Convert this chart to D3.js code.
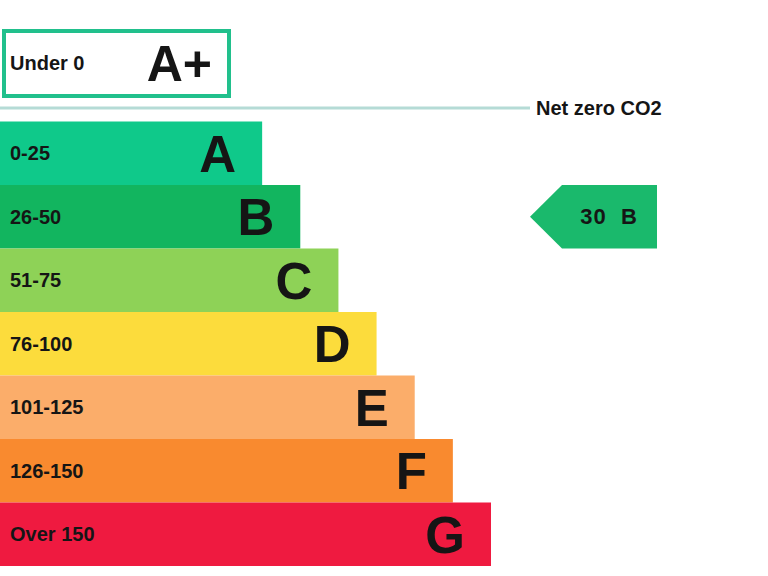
<!DOCTYPE html>
<html>
<head>
<meta charset="utf-8">
<script src="https://cdn.jsdelivr.net/npm/d3@7"></script>
<style>
  html, body { margin: 0; padding: 0; background: #fff; }
  svg { display: block; }
  text { font-family: "Liberation Sans", Arial, sans-serif; font-weight: bold; fill: #151515; }
</style>
</head>
<body>
<svg id="chart" width="768" height="576"></svg>
<script>
// ---- data ----
const bands = ["A", "B", "C", "D", "E", "F", "G"];
const ranges = ["0-25", "26-50", "51-75", "76-100", "101-125", "126-150", "Over 150"];
const barLengths = [1, 2, 3, 4, 5, 6, 7];
const bandColors = ["#0fc98a", "#12b55f", "#8ed257", "#fcdc3c", "#fbad6a", "#f98a2f", "#ef1a40"];
const topBand = "A+";
const topRange = "Under 0";
const topColor = "#21c08c";
const netZeroLabel = "Net zero CO2";
const currentValue = 30;
const currentBand = "B";
const currentColor = "#1ab96c";

// ---- drawing ----
const svg = d3.select("#chart");

const y = d3.scaleBand().domain(bands).range([121.5, 566]).padding(0);
const x = d3.scaleLinear().domain([0, 7]).range([224, 491]);

// A+ box
svg.append("rect")
  .attr("x", 4).attr("y", 31)
  .attr("width", 225).attr("height", 65)
  .attr("fill", "#fff")
  .attr("stroke", topColor)
  .attr("stroke-width", 4);
svg.append("text").attr("x", 10).attr("y", 70).attr("font-size", 20).text(topRange);
svg.append("text").attr("x", 212).attr("y", 81).attr("text-anchor", "end").attr("font-size", 50).text(topBand);

// Net zero line
svg.append("line")
  .attr("x1", 0).attr("x2", 530)
  .attr("y1", 108).attr("y2", 108)
  .attr("stroke", "#b5dbd6").attr("stroke-width", 3);
svg.append("text").attr("x", 536).attr("y", 114.5).attr("font-size", 20).text(netZeroLabel);

// Bars
const g = svg.append("g");
const rows = g.selectAll("g.row").data(bands).join("g").attr("class", "row");
rows.append("rect")
  .attr("x", 0)
  .attr("y", d => y(d))
  .attr("width", (d, i) => x(barLengths[i]))
  .attr("height", y.bandwidth())
  .attr("fill", (d, i) => bandColors[i]);
rows.append("text")
  .attr("x", 10)
  .attr("y", d => y(d) + y.bandwidth() / 2 + 7)
  .attr("font-size", 20)
  .text((d, i) => ranges[i]);
rows.append("text")
  .attr("x", (d, i) => x(barLengths[i]) - 26)
  .attr("y", d => y(d) + y.bandwidth() / 2 + 18.5)
  .attr("text-anchor", "end")
  .attr("font-size", 51)
  .text(d => d);

// Current rating arrow
const ay0 = y(currentBand), ay1 = ay0 + y.bandwidth(), amid = (ay0 + ay1) / 2;
const ax0 = 530, axs = 562, ax1 = 657;
svg.append("path")
  .attr("d", `M${ax0},${amid} L${axs},${ay0} L${ax1},${ay0} L${ax1},${ay1} L${axs},${ay1} Z`)
  .attr("fill", currentColor);
svg.append("text")
  .attr("x", 609).attr("y", amid + 7.5)
  .attr("text-anchor", "middle")
  .attr("font-size", 22)
  .attr("letter-spacing", 1)
  .attr("xml:space", "preserve")
  .text(`${currentValue}  ${currentBand}`);
</script>
</body>
</html>
